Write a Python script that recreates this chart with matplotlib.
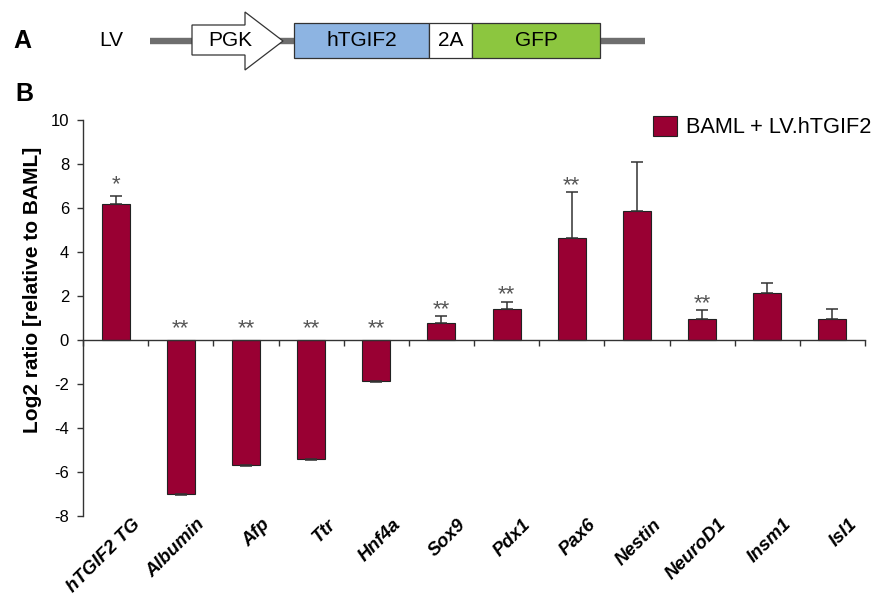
import matplotlib.pyplot as plt
import matplotlib.transforms as mtransforms
from matplotlib.patches import Polygon, Rectangle
import numpy as np

plt.rcParams['font.family'] = ['Liberation Sans', 'DejaVu Sans']
plt.rcParams['axes.unicode_minus'] = False

genes = ['hTGIF2 TG', 'Albumin', 'Afp', 'Ttr', 'Hnf4a', 'Sox9', 'Pdx1',
         'Pax6', 'Nestin', 'NeuroD1', 'Insm1', 'Isl1']
log2_ratio = [6.2, -7.02, -5.7, -5.4, -1.86, 0.79, 1.43, 4.63, 5.88, 0.95, 2.13, 0.95]
err = [0.33, 0.04, 0.04, 0.04, 0.05, 0.31, 0.31, 2.1, 2.23, 0.4, 0.46, 0.46]
stars = ['*', '**', '**', '**', '**', '**', '**', '**', '', '**', '', '']
legend_label = 'BAML + LV.hTGIF2'

bar_color = '#990033'
W, H = 872, 598

fig = plt.figure(figsize=(W / 100, H / 100), dpi=100)

# panel B: bar chart
ax = fig.add_axes([83 / W, 1 - 516 / H, (865 - 83) / W, (516 - 120) / H])
x = np.arange(len(genes)) + 0.5
vals = np.array(log2_ratio)
e = np.array(err)
lower = np.where(vals < 0, e, 0)
upper = np.where(vals >= 0, e, 0)
bars = ax.bar(x, vals, width=0.43, color=bar_color, edgecolor='#222222',
              linewidth=0.8, label=legend_label, zorder=2)
ax.errorbar(x, vals, yerr=[lower, upper], fmt='none', ecolor='#333333',
            elinewidth=1.1, capsize=4, capthick=1.1, zorder=3)

for xi, v, ei, s in zip(x, vals, e, stars):
    if not s:
        continue
    top = max(v + ei if v >= 0 else 0, 0.2)
    y = top + 0.63 - 0.58 + (0.25 if s == '*' else 0)
    ax.text(xi, y, s, ha='center', va='baseline', fontsize=16, color='#555555')

ax.set_xlim(0, len(genes))
ax.set_ylim(-8, 10)
ax.set_yticks(range(-8, 11, 2))
ax.set_xticks(range(len(genes) + 1))
ax.set_xticklabels([])
ax.spines['bottom'].set_position(('data', 0))
ax.spines['top'].set_visible(False)
ax.spines['right'].set_visible(False)
for sp in ('left', 'bottom'):
    ax.spines[sp].set_color('#333333')
    ax.spines[sp].set_linewidth(1.0)
ax.tick_params(axis='y', direction='out', length=4, width=1, color='#333333',
               labelsize=12, pad=6)
ax.tick_params(axis='x', direction='out', length=4, width=1, color='#333333')
ax.set_ylabel('Log2 ratio [relative to BAML]', fontsize=15, fontweight='bold')
ax.yaxis.set_label_coords(-0.053, 0.57)

offset = mtransforms.offset_copy(ax.transData, fig=fig, x=16, y=0, units='dots')
for xi, g in zip(x, genes):
    ax.text(xi, -8, g, transform=offset, rotation=45, rotation_mode='anchor',
            ha='right', va='top', fontsize=13.5, fontweight='bold', fontstyle='italic')

ax.legend(handles=[bars], loc='upper right', bbox_to_anchor=(871 / W, 1 - 116 / H),
          bbox_transform=fig.transFigure, frameon=False, fontsize=15.7,
          handlelength=1.1, handleheight=1.0, handletextpad=0.38,
          borderpad=0, borderaxespad=0)

# panel A: construct diagram, drawn in pixel coordinates
ov = fig.add_axes([0, 0, 1, 1], zorder=-1)
ov.set_xlim(0, W)
ov.set_ylim(H, 0)
ov.axis('off')

ov.plot([150, 645], [41, 41], color='#6e6e6e', lw=4.6, solid_capstyle='butt', zorder=1)
arrow = [(192, 25), (245, 25), (245, 12), (283, 41), (245, 70), (245, 55), (192, 55)]
ov.add_patch(Polygon(arrow, closed=True, facecolor='white', edgecolor='#333333', lw=0.9, zorder=2))
boxes = [(294, 429, '#8db4e2', 'hTGIF2'), (429, 472, 'white', '2A'), (472, 600, '#8cc63f', 'GFP')]
for x0, x1, c, lab in boxes:
    ov.add_patch(Rectangle((x0, 23), x1 - x0, 35, facecolor=c, edgecolor='#333333', lw=0.9, zorder=2))
    ov.text((x0 + x1) / 2, 41, lab, ha='center', va='center', fontsize=15, zorder=3)
ov.text(230, 41, 'PGK', ha='center', va='center', fontsize=15, zorder=3)
ov.text(111, 41, 'LV', ha='center', va='center', fontsize=15)
ov.text(22, 41, 'A', ha='center', va='center', fontsize=18, fontweight='bold')
ov.text(24, 94, 'B', ha='center', va='center', fontsize=18, fontweight='bold')

fig.savefig('out.png', dpi=100)
